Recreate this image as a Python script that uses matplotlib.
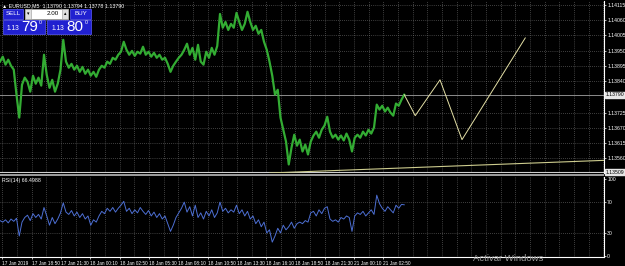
import numpy as np
import matplotlib
matplotlib.use("Agg")
import matplotlib.pyplot as plt
from matplotlib.patches import Rectangle

# ---------------- data ----------------
close = [1.13910, 1.13928, 1.13899, 1.13917, 1.13895, 1.13881, 1.13790, 1.13707, 1.13826, 1.13852,
         1.13837, 1.13801, 1.13859, 1.13830, 1.13852, 1.13823, 1.13935, 1.13862, 1.13815, 1.13844,
         1.13801, 1.13830, 1.13881, 1.13989, 1.13910, 1.13888, 1.13902, 1.13881, 1.13895, 1.13873,
         1.13891, 1.13866, 1.13881, 1.13859, 1.13873, 1.13855, 1.13881, 1.13895, 1.13888, 1.13910,
         1.13902, 1.13924, 1.13917, 1.13935, 1.13946, 1.13982, 1.13953, 1.13935, 1.13949, 1.13931,
         1.13946, 1.13939, 1.13964, 1.13935, 1.13946, 1.13928, 1.13942, 1.13924, 1.13935, 1.13917,
         1.13924, 1.13902, 1.13873, 1.13895, 1.13910, 1.13924, 1.13935, 1.13953, 1.13975, 1.13935,
         1.13960, 1.13917, 1.13971, 1.13910, 1.13899, 1.13946, 1.13924, 1.13960, 1.13935, 1.13967,
         1.14083, 1.14033, 1.14054, 1.14025, 1.14047, 1.14033, 1.14087, 1.14054, 1.14025, 1.14047,
         1.14091, 1.14054, 1.14025, 1.14040, 1.14011, 1.14025, 1.13982, 1.13953, 1.13910, 1.13859,
         1.13790, 1.13808, 1.13707, 1.13663, 1.13620, 1.13537, 1.13598, 1.13645, 1.13605, 1.13627,
         1.13584, 1.13609, 1.13573, 1.13620, 1.13642, 1.13656, 1.13634, 1.13663, 1.13678, 1.13710,
         1.13656, 1.13634, 1.13645, 1.13627, 1.13642, 1.13624, 1.13649, 1.13627, 1.13584, 1.13634,
         1.13645, 1.13634, 1.13656, 1.13642, 1.13663, 1.13649, 1.13671, 1.13754, 1.13736, 1.13750,
         1.13729, 1.13743, 1.13725, 1.13714, 1.13758, 1.13750, 1.13772, 1.13790]

rsi = [46, 44, 47, 43, 48, 45, 49, 26, 44, 50,
       53, 46, 55, 50, 54, 48, 63, 52, 40, 50,
       42, 48, 56, 69, 57, 54, 59, 52, 57, 50,
       55, 48, 52, 40, 47, 44, 52, 58, 55, 62,
       58, 63, 57, 62, 66, 71, 58, 62, 55, 60,
       56, 63, 58, 54, 59, 52, 57, 50, 55, 48,
       52, 42, 32, 40, 50, 56, 62, 70, 57, 64,
       52, 66, 50, 56, 48, 58, 52, 60, 50, 56,
       70, 58, 62, 56, 60, 57, 66, 55, 60, 52,
       58, 48, 52, 42, 47, 38, 44, 30, 34, 18,
       26, 36, 30, 40, 34, 38, 44, 36, 42, 44,
       42, 46, 44, 56, 58, 52, 60, 55, 62, 64,
       48, 45, 47, 44, 50, 48, 52, 50, 32, 52,
       56, 54, 58, 52, 56, 60, 54, 79, 68, 62,
       58, 64, 60, 56, 66, 62, 67, 66.5]

proj_idx = [147, 151, 160, 168, 191]
proj_price = [1.13790, 1.13714, 1.13844, 1.13627, 1.13996]
trend_idx = [98, 220]
trend_price = [1.13506, 1.13552]

price_ticks = [1.14115, 1.14060, 1.14005, 1.13950, 1.13895, 1.13840,
               1.13725, 1.13670, 1.13615, 1.13560]
rsi_ticks = [100, 70, 30, 0]
time_labels = ["17 Jan 2019", "17 Jan 18:50", "17 Jan 21:30", "18 Jan 00:10",
               "18 Jan 02:50", "18 Jan 05:30", "18 Jan 08:10", "18 Jan 10:50",
               "18 Jan 13:30", "18 Jan 16:10", "18 Jan 18:50", "18 Jan 21:30",
               "21 Jan 00:10", "21 Jan 02:50"]
bid = 1.13790
low_level = 1.13509
rsi_value = 66.4988

# ---------------- fonts ----------------
plt.rcParams['font.family'] = ['Liberation Sans', 'DejaVu Sans']

# ---------------- layout ----------------
W, H = 625, 266
fig = plt.figure(figsize=(W / 100, H / 100), dpi=100, facecolor="black")

def fx(px):
    return px / W

def fy(py):
    return 1 - py / H

xmax = 604 / 2.75
tick_first, tick_step = 0.9, 10.655
tick_pos = [tick_first + tick_step * k for k in range(len(time_labels))]
grid_pos = np.arange(tick_first, xmax, tick_step / 2)

grid_kw = dict(color="#7a7a7a", lw=0.5, ls=(0, (1, 2)), zorder=0)

ax = fig.add_axes([0, fy(173), fx(604), fy(1) - fy(173)], facecolor="black")
ax2 = fig.add_axes([0, fy(257), fx(604), fy(177) - fy(257)], facecolor="black")

x = np.arange(len(close))
for a in (ax, ax2):
    a.set_xlim(0, xmax)
    for g in grid_pos:
        a.axvline(g, **grid_kw)
    for s in ("left", "top"):
        a.spines[s].set_visible(False)
    for s in ("right", "bottom"):
        a.spines[s].set_color("white")
        a.spines[s].set_linewidth(0.8)
    a.tick_params(colors="white", labelsize=3.7, length=1.5, width=0.5, pad=0.8)
    a.yaxis.tick_right()

# main price panel
ax.set_ylim(1.13506, 1.14130)
for p in price_ticks:
    ax.axhline(p, **grid_kw)
ax.set_yticks(price_ticks)
ax.set_yticklabels([f"{p:.5f}" for p in price_ticks])
ax.set_xticks([])
ax.spines["bottom"].set_visible(False)
ax.axhline(bid, color="#8c8c8c", lw=0.7, zorder=1)
ax.axhline(low_level, color="#cfcfcf", lw=0.8, zorder=1)
ax.plot(x, close, color="#33ac33", lw=1.6, zorder=3)
ax.plot(proj_idx, proj_price, color="#e4e0a6", lw=0.7, zorder=3)
ax.plot(trend_idx, trend_price, color="#cdcc8e", lw=0.8, zorder=3)
ax.text(0.004, 0.988, "▲ EURUSD,M5  1.13790 1.13794 1.13778 1.13790",
        transform=ax.transAxes, color="white", fontsize=3.8, va="top", ha="left")
for val in (bid, low_level):
    ax.text(1.003, val, f"{val:.5f}", transform=ax.get_yaxis_transform(),
            fontsize=3.7, color="black", va="center", ha="left", zorder=6,
            bbox=dict(boxstyle="square,pad=0.12", fc="#e6e6e6", ec="#e6e6e6"),
            clip_on=False)

# RSI panel
ax2.set_ylim(-1.3, 102.6)
for r in (70, 30):
    ax2.axhline(r, **grid_kw)
ax2.plot(x, rsi, color="#4d6fd3", lw=0.7, zorder=3)
ax2.set_yticks(rsi_ticks)
ax2.set_yticklabels([str(r) for r in rsi_ticks])
ax2.set_xticks(tick_pos)
ax2.set_xticklabels(time_labels, ha="left")
ax2.tick_params(axis="x", pad=1.2, labelsize=3.4)
ax2.text(0.004, 0.985, f"RSI(14) {rsi_value}", transform=ax2.transAxes,
         color="white", fontsize=3.8, va="top", ha="left")

# overlay: separator, one-click panel, watermark
ov = fig.add_axes([0, 0, 1, 1])
ov.set_xlim(0, W)
ov.set_ylim(H, 0)
ov.axis("off")
ov.patch.set_visible(False)
ov.add_patch(Rectangle((0, 174), 604, 2.4, fc="#9a9a9a", ec="none"))

blue = "#2020d0"
edge = "#5a5aff"
ov.add_patch(Rectangle((3, 9), 20, 9.5, fc=blue, ec=edge, lw=0.5))
ov.text(13, 13.8, "SELL", color="white", fontsize=4.5, ha="center", va="center")
ov.add_patch(Rectangle((25, 9), 43, 9.5, fc="white", ec="#aaaaaa", lw=0.5))
ov.add_patch(Rectangle((25, 9), 6, 9.5, fc="#e0e0e0", ec="#999999", lw=0.4))
ov.add_patch(Rectangle((62, 9), 6, 9.5, fc="#e0e0e0", ec="#999999", lw=0.4))
ov.text(28, 13.8, "▾", color="black", fontsize=3.5, ha="center", va="center",
        family="DejaVu Sans")
ov.text(65, 13.8, "▴", color="black", fontsize=3.5, ha="center", va="center",
        family="DejaVu Sans")
ov.text(53, 13.8, "2.00", color="black", fontsize=4.5, ha="center", va="center")
ov.add_patch(Rectangle((70, 9), 21, 9.5, fc=blue, ec=edge, lw=0.5))
ov.text(80.5, 13.8, "BUY", color="white", fontsize=4.5, ha="center", va="center")
ov.add_patch(Rectangle((3, 19.5), 42, 14.5, fc=blue, ec=edge, lw=0.5))
ov.add_patch(Rectangle((47, 19.5), 44, 14.5, fc=blue, ec=edge, lw=0.5))
ov.text(7, 28.5, "1.13", color="white", fontsize=4.8, ha="left", va="center")
ov.text(21.5, 27, "79", color="white", fontsize=11, ha="left", va="center")
ov.text(38.5, 22.5, "0", color="white", fontsize=3.8, ha="left", va="center")
ov.text(52, 28.5, "1.13", color="white", fontsize=4.8, ha="left", va="center")
ov.text(66.5, 27, "80", color="white", fontsize=11, ha="left", va="center")
ov.text(84.5, 22.5, "0", color="white", fontsize=3.8, ha="left", va="center")

ov.text(508, 258.5, "Activar Windows", color="#9a9a9a", fontsize=6.8,
        ha="center", va="center", zorder=10)

fig.savefig("out.png", dpi=100, facecolor="black")
